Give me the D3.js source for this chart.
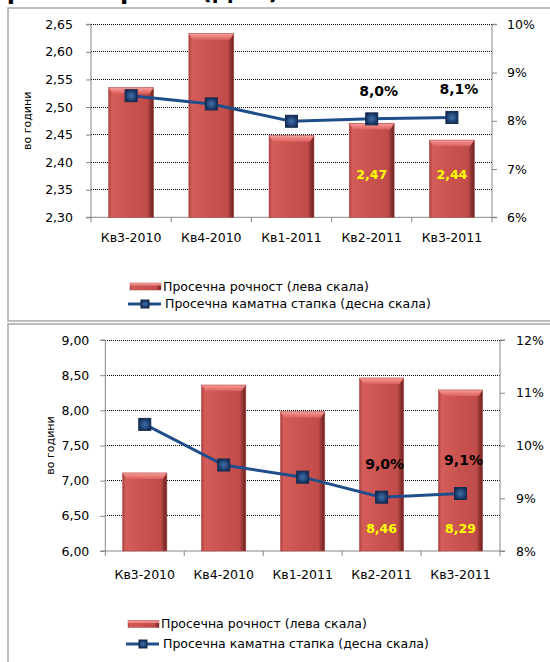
<!DOCTYPE html>
<html><head><meta charset="utf-8">
<script src="https://cdn.jsdelivr.net/npm/d3@7/dist/d3.min.js"></script>
<style>
html,body{margin:0;padding:0;background:#fff;}
svg{display:block;font-family:"DejaVu Sans",Verdana,sans-serif;}
</style></head>
<body><svg id="c" width="550" height="662"></svg>
<script>
// ---- data ----
const categories = ["Кв3-2010","Кв4-2010","Кв1-2011","Кв2-2011","Кв3-2011"];
const maturityTop = [2.535, 2.633, 2.448, 2.47, 2.44];
const rateTop = [8.52, 8.35, 7.99, 8.04, 8.07];
const leftTicksTop = [2.30,2.35,2.40,2.45,2.50,2.55,2.60,2.65];
const rightTicksTop = [6,7,8,9,10];
const maturityBottom = [7.11, 8.36, 7.98, 8.46, 8.29];
const rateBottom = [10.40, 9.63, 9.40, 9.02, 9.09];
const leftTicksBottom = [6.00,6.50,7.00,7.50,8.00,8.50,9.00];
const rightTicksBottom = [8,9,10,11,12];
const labeledIdx = [3,4];
const yTitle = "во години";
const legendBar = "Просечна рочност (лева скала)";
const legendLine = "Просечна каматна стапка (десна скала)";
const titleText = "финансирање (ДЕУ)";

const loc = d3.formatLocale({decimal:",", thousands:" ", grouping:[3], currency:["",""]});
const f2 = loc.format(".2f"), f1 = loc.format(".1f"), f0 = loc.format(".0f");

const svg = d3.select("#c");
const defs = svg.append("defs");
// bar gradients
const gH = defs.append("linearGradient").attr("id","barH").attr("x1","0").attr("x2","1").attr("y1","0").attr("y2","0");
[[0,"#a8413e"],[0.07,"#d45d5a"],[0.5,"#c9524f"],[0.86,"#c04c49"],[0.94,"#8a302e"],[1,"#6a2220"]].forEach(s=>gH.append("stop").attr("offset",s[0]).attr("stop-color",s[1]));
const gT = defs.append("linearGradient").attr("id","barT").attr("x1","0").attr("x2","0").attr("y1","0").attr("y2","1");
[[0,"#f4a09d"],[0.5,"#ec7d7a"],[1,"#d9625f"]].forEach(s=>gT.append("stop").attr("offset",s[0]).attr("stop-color",s[1]));
const gM = defs.append("radialGradient").attr("id","mk");
[[0,"#3e6ea8"],[0.6,"#274d80"],[1,"#14305a"]].forEach(s=>gM.append("stop").attr("offset",s[0]).attr("stop-color",s[1]));

// title (cut off at top, as in the reference)
svg.append("text").attr("x",-1).attr("y",-1).attr("font-size",24).attr("font-weight","bold").attr("fill","#000").text(titleText);

function drawBar(g, x, y, w, h){
  g.append("rect").attr("x",x).attr("y",y).attr("width",w).attr("height",h).attr("fill","url(#barH)");
  const cap = Math.min(6,h);
  g.append("path").attr("d",`M${x},${y}L${x+w},${y}L${x+w-4},${y+cap}L${x+4},${y+cap}Z`).attr("fill","url(#barT)");
  g.append("rect").attr("x",x).attr("y",y).attr("width",w).attr("height",h).attr("fill","none").attr("stroke","#b84a47").attr("stroke-width",0.6);
}
function drawMarker(g, cx, cy, s){
  g.append("rect").attr("x",cx-s/2).attr("y",cy-s/2).attr("width",s).attr("height",s)
   .attr("fill","url(#mk)").attr("stroke","#122a4e").attr("stroke-width",1);
}

function drawChart(cfg){
  const g = svg.append("g");
  // frame
  g.append("rect").attr("x",cfg.frame[0]).attr("y",cfg.frame[1]).attr("width",cfg.frame[2]).attr("height",cfg.frame[3])
   .attr("fill","#fff").attr("stroke","#a6a6a6").attr("stroke-width",1.5);
  const x = d3.scaleBand().domain(categories).range([cfg.left,cfg.right]).padding(0);
  const yL = d3.scaleLinear().domain(d3.extent(cfg.lt)).range([cfg.bottom,cfg.top]);
  const yR = d3.scaleLinear().domain(d3.extent(cfg.rt)).range([cfg.bottom,cfg.top]);
  // gridlines
  g.append("g").selectAll("line").data(cfg.lt.slice(1)).join("line")
   .attr("x1",cfg.left).attr("x2",cfg.right).attr("y1",d=>yL(d)).attr("y2",d=>yL(d))
   .attr("stroke","#000").attr("stroke-width",1).attr("stroke-dasharray","1,1").attr("shape-rendering","crispEdges");
  // axes
  const axL = g.append("g").attr("transform",`translate(${cfg.left},0)`).call(d3.axisLeft(yL).tickValues(cfg.lt).tickFormat(f2).tickSize(5).tickPadding(cfg.lpad));
  const axR = g.append("g").attr("transform",`translate(${cfg.right},0)`).call(d3.axisRight(yR).tickValues(cfg.rt).tickFormat(d=>f0(d)+"%").tickSize(5).tickPadding(cfg.rpad));
  const axB = g.append("g").attr("transform",`translate(0,${cfg.bottom})`).call(d3.axisBottom(x).tickSize(0).tickPadding(cfg.bpad));
  [axL,axR,axB].forEach(a=>{
    a.select(".domain").attr("stroke","#868686");
    a.selectAll(".tick line").attr("stroke","#868686");
    a.selectAll("text").attr("font-size",12.5).attr("fill","#000").attr("font-family","DejaVu Sans");
  });
  axB.selectAll(".tick text").attr("dy","0.35em");
  axL.select(".domain").attr("d",`M-5,${cfg.bottom}H0V${cfg.top}H-5`);
  axR.select(".domain").attr("d",`M5,${cfg.bottom}H0V${cfg.top}H5`);
  axB.select(".domain").attr("d",`M${cfg.left},0H${cfg.right}`);
  // category boundary ticks
  const bounds = categories.map(c=>x(c)).concat([x(categories[categories.length-1])+x.bandwidth()]);
  g.append("g").selectAll("line").data(bounds).join("line")
   .attr("x1",d=>d).attr("x2",d=>d).attr("y1",cfg.bottom).attr("y2",cfg.bottom+5).attr("stroke","#868686");
  // bars
  const bw = x.bandwidth()*0.56;
  const bg = g.append("g");
  cfg.bars.forEach((v,i)=>{
    const cx = x(categories[i])+x.bandwidth()/2;
    drawBar(bg, cx-bw/2, yL(v), bw, cfg.bottom-yL(v));
  });
  // line
  const pts = cfg.rate.map((v,i)=>[x(categories[i])+x.bandwidth()/2, yR(v)]);
  g.append("path").attr("d",d3.line()(pts)).attr("fill","none").attr("stroke","#1f4e8a").attr("stroke-width",3);
  pts.forEach(p=>drawMarker(g,p[0],p[1],12));
  // labels
  labeledIdx.forEach(i=>{
    const cx = x(categories[i])+x.bandwidth()/2;
    g.append("text").attr("x",cx+cfg.pctDx).attr("y",pts[i][1]-cfg.pctDy).attr("dy","0.35em").attr("text-anchor","middle")
      .attr("font-size",14).attr("font-weight","bold").attr("fill","#000").text(f1(cfg.rate[i])+"%");
    g.append("text").attr("x",cx).attr("y",cfg.bottom-cfg.valDy).attr("dy","0.35em").attr("text-anchor","middle")
      .attr("font-size",12.5).attr("font-weight","bold").attr("fill","#ffff00").text(f2(cfg.bars[i]));
  });
  // y title
  g.append("text").attr("transform",`translate(${cfg.ytx},${(cfg.top+cfg.bottom)/2}) rotate(-90)`)
   .attr("text-anchor","middle").attr("dy","0.35em").attr("font-size",11).attr("fill","#000").text(yTitle);
  // legend
  const lx = cfg.legX;
  g.append("rect").attr("x",lx).attr("y",cfg.leg1-3.5).attr("width",31).attr("height",7).attr("fill","url(#barH)").attr("stroke","#b84a47").attr("stroke-width",0.5);
  g.append("rect").attr("x",lx).attr("y",cfg.leg1-3.5).attr("width",31).attr("height",2.5).attr("fill","#ec8986");
  g.append("text").attr("x",lx+33).attr("y",cfg.leg1).attr("dy","0.35em").attr("font-size",12.5).attr("fill","#000").text(legendBar);
  g.append("line").attr("x1",lx-2).attr("x2",lx+31).attr("y1",cfg.leg2).attr("y2",cfg.leg2).attr("stroke","#1f4e8a").attr("stroke-width",3);
  drawMarker(g, lx+15, cfg.leg2, 8);
  g.append("text").attr("x",lx+35).attr("y",cfg.leg2).attr("dy","0.35em").attr("font-size",12.5).attr("fill","#000").text(legendLine);
}

drawChart({frame:[8,8,560,313], left:91, right:492, top:24.3, bottom:217.3,
  lt:leftTicksTop, rt:rightTicksTop, bars:maturityTop, rate:rateTop,
  lpad:13, rpad:10, bpad:20, pctDx:7, pctDy:28, valDy:43, ytx:27, legX:130, leg1:286.5, leg2:304});
drawChart({frame:[8,324,560,360], left:105.3, right:500, top:340, bottom:551,
  lt:leftTicksBottom, rt:rightTicksBottom, bars:maturityBottom, rate:rateBottom,
  lpad:11, rpad:11, bpad:24, pctDx:3, pctDy:33, valDy:22, ytx:50, legX:128, leg1:624, leg2:644});
</script></body></html>
